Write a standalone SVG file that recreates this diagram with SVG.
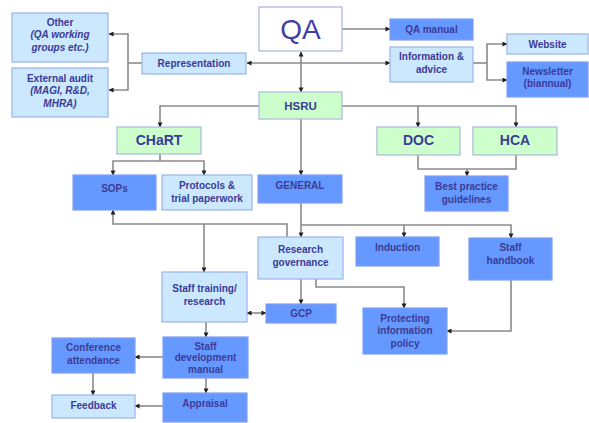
<svg xmlns="http://www.w3.org/2000/svg" width="589" height="423" viewBox="0 0 589 423">
  <defs>
    <marker id="arr" viewBox="0 0 6 6" refX="5.5" refY="3" markerWidth="5" markerHeight="5" orient="auto-start-reverse" markerUnits="userSpaceOnUse">
      <path d="M0,0 L6,3 L0,6 z" fill="#222"/>
    </marker>
    <style>
      .lt { fill: #cce8ff; stroke: #99b4e6; stroke-width: 1.2; }
      .dk { fill: #6699ff; stroke: #7f9ff0; stroke-width: 1.2; }
      .gr { fill: #ccffcc; stroke: #a9b9dc; stroke-width: 1.2; }
      .wh { fill: #ffffff; stroke: #aab2dd; stroke-width: 1.2; }
      text { font-family: "Liberation Sans", Arial, sans-serif; font-weight: bold; font-size: 10px; fill: #3b3b96; text-anchor: middle; }
      .it { font-style: italic; }
      .big { font-size: 14px; }
      .mid { font-size: 11.5px; }
      .qa { font-size: 28px; font-weight: normal; fill: #3f3fa8; }
      #connectors path { fill: none; stroke: #8a8a8a; stroke-width: 1.6; }
      #connectors .a { marker-end: url(#arr); }
      #connectors .aa { marker-start: url(#arr); marker-end: url(#arr); }
    </style>
  </defs>
  <rect width="589" height="423" fill="#ffffff"/>

  <g id="connectors">
    <!-- QA to manual, QA <-> HSRU -->
    <path class="a" d="M342,29 H390"/>
    <path class="aa" d="M301,52 V92"/>
    <!-- Representation <-> Information & advice -->
    <path class="aa" d="M247,63 H390"/>
    <!-- Representation to Other / External audit -->
    <path d="M142,63 H128"/>
    <path class="a" d="M128,63 V34 H109"/>
    <path class="a" d="M128,63 V90 H109"/>
    <!-- Information & advice to Website / Newsletter -->
    <path d="M473,63 H487"/>
    <path class="a" d="M487,63 V44 H507"/>
    <path class="a" d="M487,63 V80 H507"/>
    <!-- HSRU to CHaRT, DOC, HCA, GENERAL -->
    <path class="a" d="M259,106 H160 V127"/>
    <path class="a" d="M342,106 H418 V127"/>
    <path class="a" d="M418,106 H516 V127"/>
    <path class="a" d="M301,119 V175"/>
    <!-- CHaRT to SOPs / Protocols -->
    <path d="M160,154 V161"/>
    <path class="a" d="M160,161 H113 V175"/>
    <path class="a" d="M160,161 H204 V175"/>
    <!-- DOC / HCA to Best practice -->
    <path d="M418,155 V169 H516 V155"/>
    <path class="a" d="M467,169 V176"/>
    <!-- GENERAL to Research governance, Induction, Staff handbook -->
    <path class="a" d="M301,203 V237"/>
    <path class="a" d="M301,225 H404 V237"/>
    <path class="a" d="M404,225 H511 V238"/>
    <!-- Research governance to SOPs / Staff training -->
    <path class="a" d="M287,237 V224 H113 V210"/>
    <path class="a" d="M204,224 V272"/>
    <!-- Research governance to GCP / Protecting information -->
    <path class="a" d="M301,279 V304"/>
    <path class="a" d="M316,279 V287 H404 V308"/>
    <!-- Staff handbook to Protecting information -->
    <path class="a" d="M511,280 V331 H447"/>
    <!-- Staff training <-> GCP -->
    <path class="aa" d="M247,313 H266"/>
    <!-- Staff training to development manual -->
    <path class="a" d="M206,322 V337"/>
    <!-- Development manual to conference / appraisal -->
    <path class="a" d="M163,357 H135"/>
    <path class="a" d="M206,378 V393"/>
    <!-- Conference / appraisal to feedback -->
    <path class="a" d="M93,373 V395"/>
    <path class="a" d="M163,406 H135"/>
  </g>

  <g id="qa">
    <rect class="wh" x="259" y="7" width="83" height="44"/>
    <text class="qa" x="300.5" y="39">QA</text>
  </g>
  <g id="hsru">
    <rect class="gr" x="259" y="92" width="83" height="27"/>
    <text class="mid" x="300.5" y="110">HSRU</text>
  </g>
  <g id="other">
    <rect class="lt" x="12" y="13" width="96" height="49"/>
    <text x="60" y="26">Other</text>
    <text class="it" x="60" y="38">(QA working</text>
    <text class="it" x="60" y="51">groups etc.)</text>
  </g>
  <g id="external-audit">
    <rect class="lt" x="12" y="68" width="96" height="49"/>
    <text x="60" y="82">External audit</text>
    <text class="it" x="60" y="94">(MAGI, R&amp;D,</text>
    <text class="it" x="60" y="107">MHRA)</text>
  </g>
  <g id="representation">
    <rect class="lt" x="142" y="53" width="104" height="21"/>
    <text x="194" y="67">Representation</text>
  </g>
  <g id="qa-manual">
    <rect class="dk" x="390" y="19" width="83" height="21"/>
    <text x="431.5" y="33">QA manual</text>
  </g>
  <g id="information-advice">
    <rect class="lt" x="390" y="47" width="83" height="35"/>
    <text x="431.5" y="60">Information &amp;</text>
    <text x="431.5" y="73">advice</text>
  </g>
  <g id="website">
    <rect class="lt" x="507" y="34" width="81" height="20"/>
    <text x="547.5" y="48">Website</text>
  </g>
  <g id="newsletter">
    <rect class="dk" x="507" y="62" width="81" height="35"/>
    <text x="547.5" y="75">Newsletter</text>
    <text x="547.5" y="87">(biannual)</text>
  </g>
  <g id="chart">
    <rect class="gr" x="117" y="127" width="84" height="27"/>
    <text class="big" x="159" y="145">CHaRT</text>
  </g>
  <g id="doc">
    <rect class="gr" x="377" y="127" width="83" height="28"/>
    <text class="big" x="418.5" y="145">DOC</text>
  </g>
  <g id="hca">
    <rect class="gr" x="473" y="127" width="84" height="28"/>
    <text class="big" x="515" y="145">HCA</text>
  </g>
  <g id="sops">
    <rect class="dk" x="73" y="175" width="83" height="35"/>
    <text x="114.5" y="192">SOPs</text>
  </g>
  <g id="protocols">
    <rect class="lt" x="162" y="175" width="90" height="35"/>
    <text x="207" y="189">Protocols &amp;</text>
    <text x="207" y="202">trial paperwork</text>
  </g>
  <g id="general">
    <rect class="dk" x="258" y="175" width="84" height="28"/>
    <text x="300" y="189">GENERAL</text>
  </g>
  <g id="best-practice">
    <rect class="dk" x="425" y="176" width="83" height="35"/>
    <text x="466.5" y="190">Best practice</text>
    <text x="466.5" y="203">guidelines</text>
  </g>
  <g id="research-governance">
    <rect class="lt" x="258" y="237" width="85" height="42"/>
    <text x="300.5" y="253">Research</text>
    <text x="300.5" y="266">governance</text>
  </g>
  <g id="induction">
    <rect class="dk" x="356" y="237" width="83" height="29"/>
    <text x="397.5" y="251">Induction</text>
  </g>
  <g id="staff-handbook">
    <rect class="dk" x="469" y="238" width="83" height="42"/>
    <text x="510.5" y="251">Staff</text>
    <text x="510.5" y="264">handbook</text>
  </g>
  <g id="staff-training">
    <rect class="lt" x="162" y="272" width="85" height="50"/>
    <text x="204.5" y="292">Staff training/</text>
    <text x="204.5" y="305">research</text>
  </g>
  <g id="gcp">
    <rect class="dk" x="266" y="304" width="70" height="19"/>
    <text x="301" y="317">GCP</text>
  </g>
  <g id="protecting-information">
    <rect class="dk" x="363" y="308" width="84" height="46"/>
    <text x="405" y="322">Protecting</text>
    <text x="405" y="334">information</text>
    <text x="405" y="347">policy</text>
  </g>
  <g id="staff-development">
    <rect class="dk" x="163" y="337" width="85" height="41"/>
    <text x="205.5" y="350">Staff</text>
    <text x="205.5" y="361">development</text>
    <text x="205.5" y="373">manual</text>
  </g>
  <g id="conference">
    <rect class="dk" x="52" y="338" width="83" height="35"/>
    <text x="93.5" y="351">Conference</text>
    <text x="93.5" y="364">attendance</text>
  </g>
  <g id="feedback">
    <rect class="lt" x="52" y="395" width="83" height="23"/>
    <text x="93.5" y="409">Feedback</text>
  </g>
  <g id="appraisal">
    <rect class="dk" x="163" y="393" width="84" height="29"/>
    <text x="205" y="407">Appraisal</text>
  </g>
</svg>
